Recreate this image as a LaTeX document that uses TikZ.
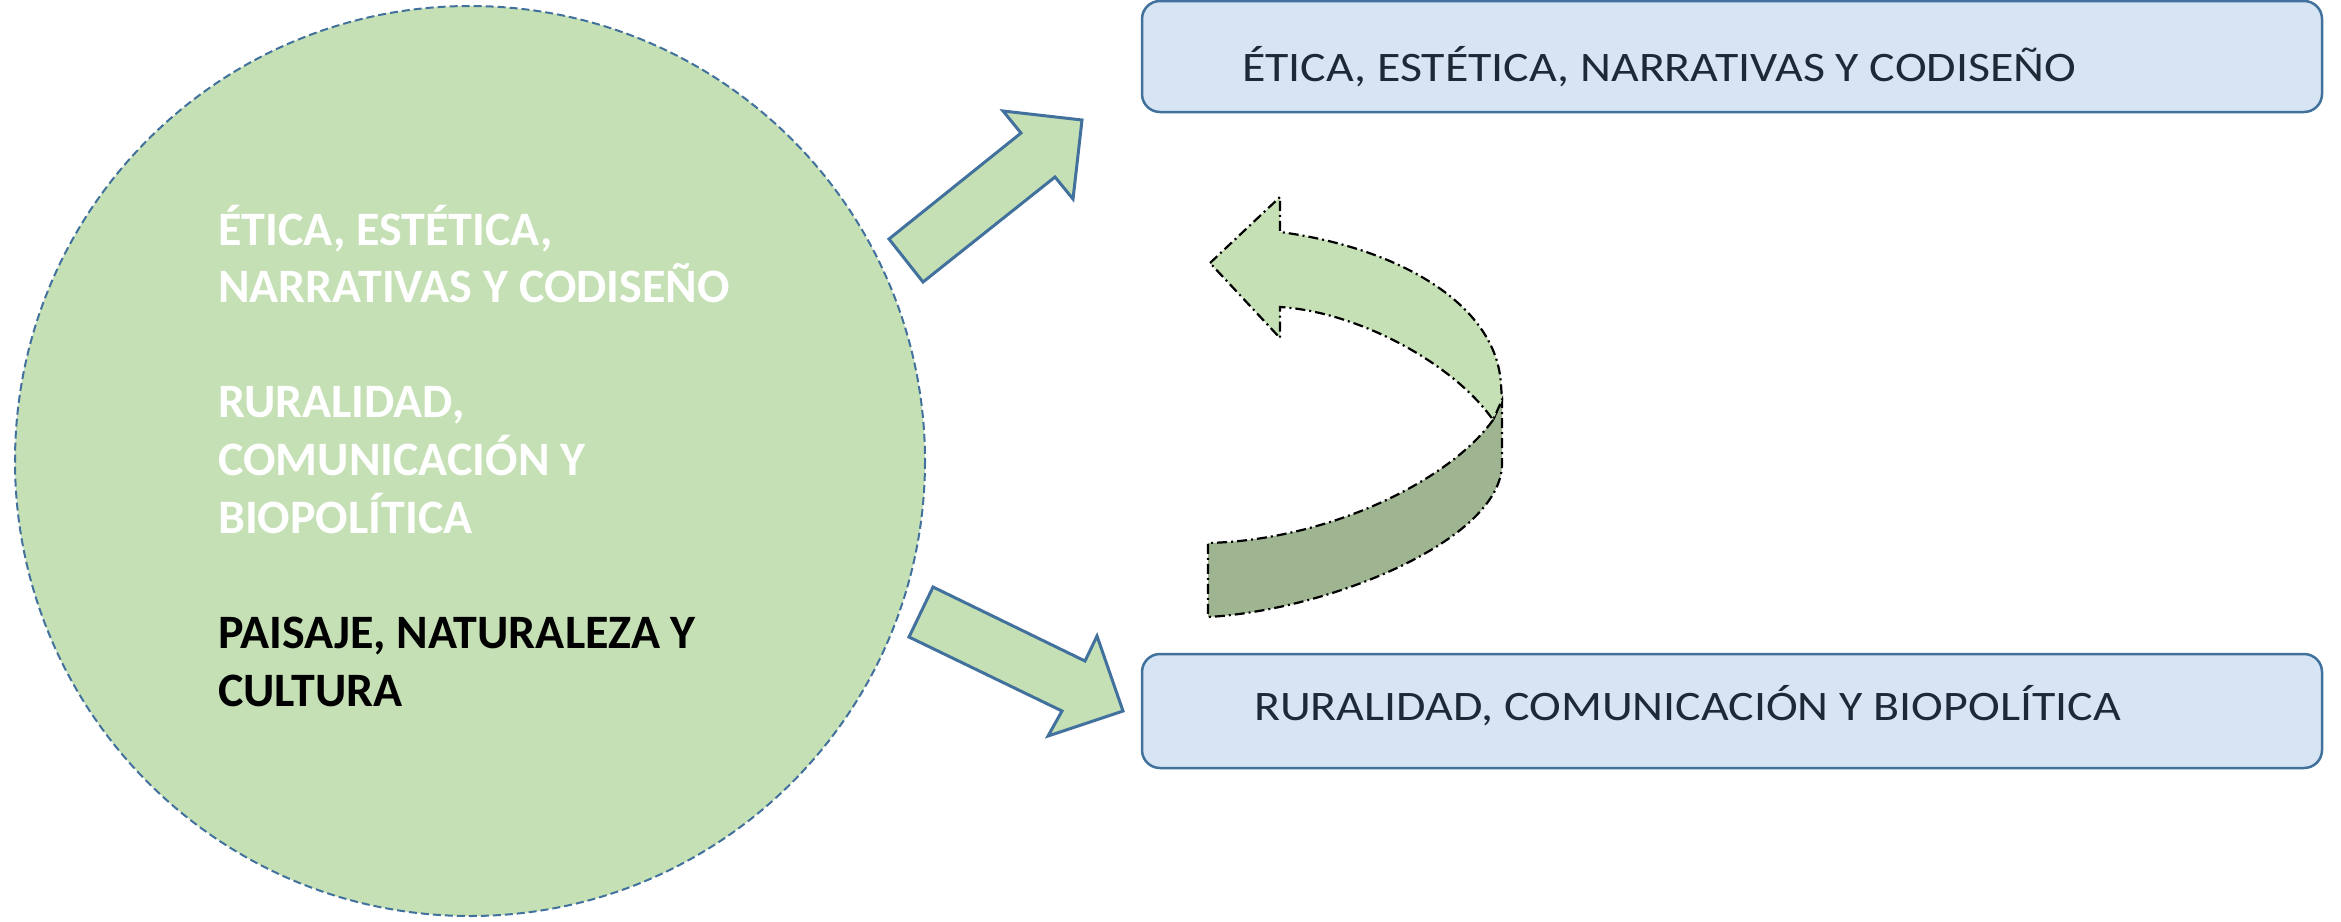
\documentclass[tikz,border=0pt]{standalone}
\usepackage{fontspec}
\setmainfont{Carlito}
\newfontfamily\boxfont[FakeStretch=1.14]{Carlito}
\definecolor{leaf}{HTML}{C5E0B4}
\definecolor{leafdark}{HTML}{9FB591}
\definecolor{edgeblue}{HTML}{41719C}
\definecolor{boxfill}{HTML}{D6E4F3}
\definecolor{boxtext}{HTML}{1C2A38}
\tikzset{
  circtext/.style={anchor=base west, inner sep=0pt, font=\fontsize{48}{58}\selectfont\bfseries},
  boxlabel/.style={anchor=base west, inner sep=0pt, text=boxtext, font=\boxfont\fontsize{42}{50}\selectfont},
  topicbox/.style={draw=edgeblue, line width=2.5pt, fill=boxfill, rounded corners=18pt},
  blockarrow/.style={draw=edgeblue, line width=3pt, fill=leaf, line join=miter},
  ribbon/.style={draw=black, line width=2.2pt, dash pattern=on 10pt off 4pt on 2pt off 4pt}
}
\begin{document}
\begin{tikzpicture}[x=1pt,y=-1pt]
\useasboundingbox (0,0) rectangle (2341,921);
% big circle
\draw[fill=leaf, draw=edgeblue, line width=2pt, dash pattern=on 8pt off 4pt] (470,461) circle (455);
\node[circtext, text=white] (l1) at (218,245) {ÉTICA, ESTÉTICA,};
\node[circtext, text=white] (l2) at (218,302.6) {NARRATIVAS Y CODISEÑO};
\node[circtext, text=white] (l3) at (218,417.8) {RURALIDAD,};
\node[circtext, text=white] (l4) at (218,475.4) {COMUNICACIÓN Y};
\node[circtext, text=white] (l5) at (218,533) {BIOPOLÍTICA};
\node[circtext, text=black] (l6) at (218,648.6) {PAISAJE, NATURALEZA Y};
\node[circtext, text=black] (l7) at (218,706.2) {CULTURA};
% boxes
\draw[topicbox] (1142,1) rectangle (2322,112);
\node[boxlabel] (t1) at (1242,81) {ÉTICA, ESTÉTICA, NARRATIVAS Y CODISEÑO};
\draw[topicbox] (1142,654) rectangle (2322,768);
\node[boxlabel] (t2) at (1254,720) {RURALIDAD, COMUNICACIÓN Y BIOPOLÍTICA};
% block arrows
\draw[blockarrow] (889,239) -- (1021,133) -- (1003,111) -- (1082,120) -- (1073,199) -- (1055,177) -- (923,282) -- cycle;
\draw[blockarrow] (933,587) -- (1085,661) -- (1097,636) -- (1123,711) -- (1048,736) -- (1062,711) -- (909,637) -- cycle;
% curved ribbon arrow
\path[fill=leafdark] (1493,420) -- (1502,400) -- (1502,465)
  .. controls (1500,540) and (1330,610) .. (1208,617) -- (1208,543)
  .. controls (1330,540) and (1450,480) .. cycle;
\draw[ribbon] (1493,420) -- (1502,400) -- (1502,465)
  .. controls (1500,540) and (1330,610) .. (1208,617) -- (1208,543)
  .. controls (1330,540) and (1450,480) .. cycle;
\path[fill=leaf] (1210,263) -- (1280,197) -- (1280,232)
  .. controls (1400,248) and (1497,305) .. (1501,385) -- (1502,400) -- (1493,420)
  .. controls (1455,365) and (1360,312) .. (1280,307) -- (1280,338) -- cycle;
\draw[ribbon] (1210,263) -- (1280,197) -- (1280,232)
  .. controls (1400,248) and (1497,305) .. (1501,385) -- (1502,400) -- (1493,420)
  .. controls (1455,365) and (1360,312) .. (1280,307) -- (1280,338) -- cycle;
\end{tikzpicture}
\end{document}
